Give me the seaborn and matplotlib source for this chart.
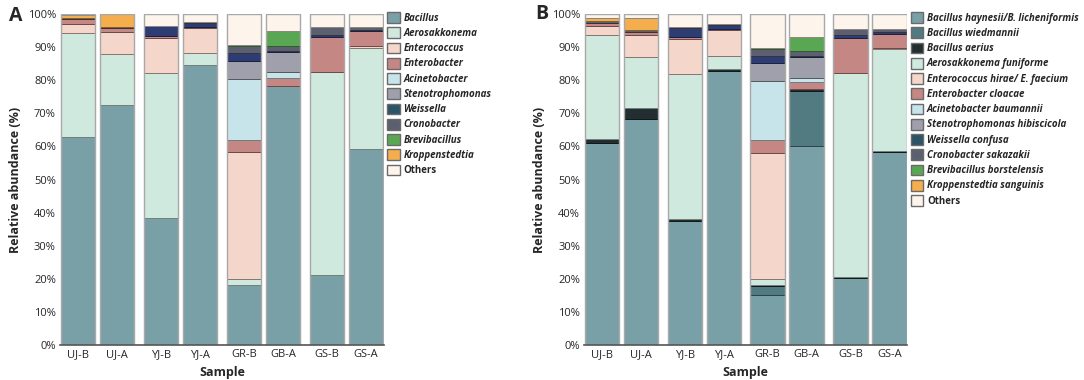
import numpy as np
import seaborn as sns
import matplotlib.pyplot as plt
import matplotlib.colors as mcolors
from matplotlib.patches import Patch

sns.set_theme(style="white")
plt.rcParams["font.family"] = ["Open Sans", "DejaVu Sans"]

samples = ["UJ-B", "UJ-A", "YJ-B", "YJ-A", "GR-B", "GB-A", "GS-B", "GS-A"]

# panel A: genus level (bottom -> top)
genera = ["Bacillus", "Aerosakkonema", "Enterococcus", "Enterobacter", "Acinetobacter",
          "Stenotrophomonas", "Weissella", "Cronobacter", "Brevibacillus", "Kroppenstedtia", "Others"]
bacillus = [63.0, 72.5, 38.3, 84.6, 18.1, 78.3, 21.1, 59.2]
aerosakkonema = [31.4, 15.3, 43.8, 3.7, 1.8, 0.0, 61.5, 30.4]
enterococcus = [2.6, 6.9, 10.7, 7.4, 38.5, 0.0, 0.0, 0.6]
enterobacter = [1.5, 1.0, 0.7, 0.3, 3.7, 2.5, 10.5, 4.8]
acinetobacter = [0.0, 0.0, 0.0, 0.0, 18.2, 1.6, 0.0, 0.0]
stenotrophomonas = [0.0, 0.0, 0.0, 0.0, 5.5, 6.0, 0.0, 0.0]
weissella = [0.0, 0.0, 2.8, 1.3, 2.3, 0.3, 0.5, 0.3]
cronobacter = [0.3, 0.4, 0.2, 0.2, 2.2, 1.5, 2.5, 0.9]
brevibacillus = [0.0, 0.0, 0.0, 0.0, 0.3, 4.7, 0.0, 0.0]
kroppenstedtia = [1.0, 3.8, 0.0, 0.0, 0.0, 0.0, 0.0, 0.0]
others_a = [0.2, 0.1, 3.5, 2.5, 9.4, 5.1, 3.9, 3.8]

# panel B: species level (bottom -> top)
species = ["Bacillus haynesii/B. licheniformis", "Bacillus wiedmannii", "Bacillus aerius",
           "Aerosakkonema funiforme", "Enterococcus hirae/ E. faecium", "Enterobacter cloacae",
           "Acinetobacter baumannii", "Stenotrophomonas hibiscicola", "Weissella confusa",
           "Cronobacter sakazakii", "Brevibacillus borstelensis", "Kroppenstedtia sanguinis", "Others"]
b_haynesii = [61.1, 68.3, 37.5, 82.7, 15.1, 60.2, 20.2, 58.2]
b_wiedmannii = [0.0, 0.0, 0.0, 0.0, 2.7, 16.6, 0.0, 0.0]
b_aerius = [1.3, 3.4, 0.5, 0.7, 0.3, 0.5, 0.5, 0.5]
a_funiforme = [31.4, 15.2, 43.8, 3.9, 1.8, 0.0, 61.6, 30.6]
e_hirae = [2.6, 6.9, 10.6, 7.9, 38.2, 0.0, 0.0, 0.4]
e_cloacae = [1.0, 0.8, 0.8, 0.3, 3.8, 2.2, 10.6, 4.4]
a_baumannii = [0.0, 0.0, 0.0, 0.0, 17.9, 1.2, 0.0, 0.0]
s_hibiscicola = [0.0, 0.0, 0.0, 0.0, 5.5, 6.2, 0.0, 0.0]
w_confusa = [0.0, 0.0, 2.7, 1.3, 2.0, 0.3, 0.8, 0.4]
c_sakazakii = [0.4, 0.5, 0.2, 0.2, 2.0, 1.5, 1.8, 1.0]
b_borstelensis = [0.0, 0.0, 0.0, 0.0, 0.3, 4.5, 0.0, 0.0]
k_sanguinis = [1.0, 3.6, 0.0, 0.0, 0.0, 0.0, 0.0, 0.0]
others_b = [1.2, 1.3, 3.9, 3.0, 10.4, 6.8, 4.5, 4.5]

data_a = [bacillus, aerosakkonema, enterococcus, enterobacter, acinetobacter, stenotrophomonas,
          weissella, cronobacter, brevibacillus, kroppenstedtia, others_a]
data_b = [b_haynesii, b_wiedmannii, b_aerius, a_funiforme, e_hirae, e_cloacae, a_baumannii,
          s_hibiscicola, w_confusa, c_sakazakii, b_borstelensis, k_sanguinis, others_b]

colors_a = ["#7aa0a7", "#d0e9df", "#f5d6cb", "#c58784", "#c6e4ea", "#9fa0ab",
            "#2d3c72", "#5c5f70", "#5aa753", "#f5ae4e", "#fdf4ec"]
colors_b = ["#7aa0a7", "#527a81", "#232e31", "#d0e9df", "#f5d6cb", "#c58784", "#c6e4ea",
            "#9fa0ab", "#2d3c72", "#5c5f70", "#5aa753", "#f5ae4e", "#fdf4ec"]


def darker(c, f=0.55):
    r, g, b = mcolors.to_rgb(c)
    return (r * f, g * f, b * f)


# bars come in pairs with a small extra gap between sites
pos = np.arange(len(samples)) + 0.12 * (np.arange(len(samples)) // 2)
width = 0.88


def stacked(ax, series, colors):
    bottom = np.zeros(len(samples))
    for vals, col in zip(series, colors):
        vals = np.array(vals)
        ax.bar(pos, vals, width, bottom=bottom, color=col, edgecolor=darker(col), linewidth=0.7)
        bottom += vals
    # light grey outline around each full bar
    ax.bar(pos, bottom, width, facecolor="none", edgecolor="#a8a8a8", linewidth=1.0)
    ax.set_xlim(pos[0] - width / 2 - 0.02, pos[-1] + width / 2 + 0.02)
    ax.set_ylim(0, 100)
    ax.set_yticks(range(0, 101, 10))
    ax.set_yticklabels([f"{t}%" for t in range(0, 101, 10)], fontsize=8)
    ax.set_xticks(pos)
    ax.set_xticklabels(samples, fontsize=8)
    ax.tick_params(axis="both", length=0, pad=3)
    ax.set_xlabel("Sample", fontsize=9, fontweight="bold", labelpad=4)
    ax.set_ylabel("Relative abundance (%)", fontsize=9, fontweight="bold", labelpad=4)
    sns.despine(ax=ax, left=True)
    ax.spines["bottom"].set_color("#555555")
    ax.spines["bottom"].set_linewidth(1.2)


fig = plt.figure(figsize=(10.84, 3.8), dpi=100)
ax_a = fig.add_axes([0.0554, 0.092, 0.299, 0.871])
ax_b = fig.add_axes([0.539, 0.092, 0.298, 0.871])

stacked(ax_a, data_a, colors_a)
stacked(ax_b, data_b, colors_b)

# the legend swatch for Weissella is a dark teal in the original
leg_a_cols = list(colors_a)
leg_a_cols[6] = "#2b5467"
leg_b_cols = list(colors_b)
leg_b_cols[8] = "#2b5467"


def add_legend(names, cols, x):
    handles = [Patch(facecolor=c, edgecolor="#6a6a6a", linewidth=1.0) for c in cols]
    leg = fig.legend(handles, names, loc="upper left", bbox_to_anchor=(x, 0.968),
                     frameon=False, fontsize=7, handlelength=1.3, handleheight=1.3,
                     handletextpad=0.4, labelspacing=0.38, borderaxespad=0, borderpad=0)
    for t in leg.get_texts():
        t.set_fontweight("bold")
        if t.get_text() != "Others":
            t.set_fontstyle("italic")
    return leg


add_legend(genera, leg_a_cols, 0.357)
add_legend(species, leg_b_cols, 0.840)

fig.text(0.008, 0.958, "A", fontsize=14, fontweight="bold", va="center")
fig.text(0.494, 0.962, "B", fontsize=14, fontweight="bold", va="center")

fig.savefig("out.png", dpi=100)
